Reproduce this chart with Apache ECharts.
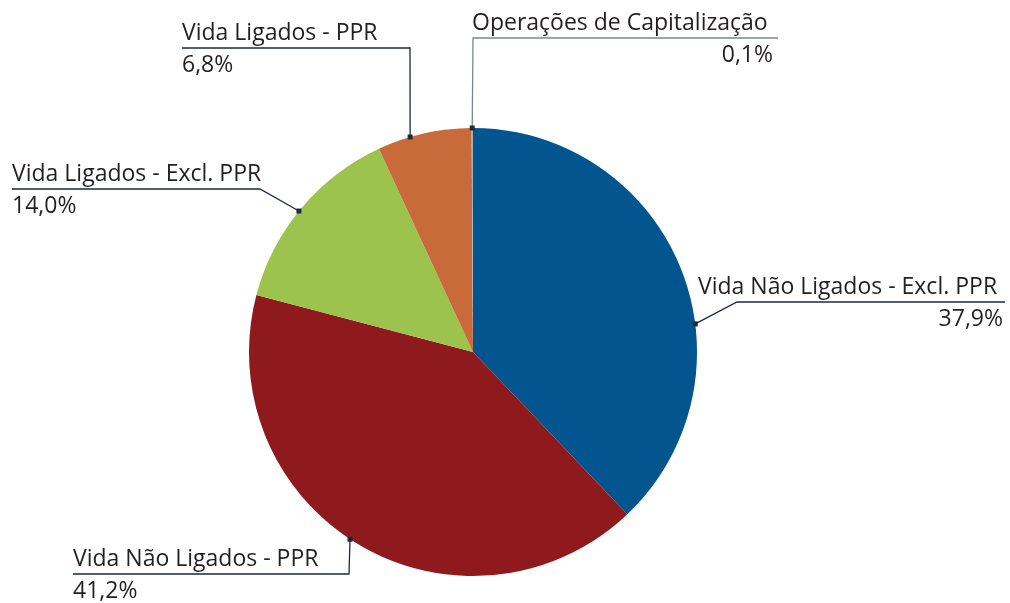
<!DOCTYPE html>
<html><head><meta charset="utf-8">
<script src="https://cdn.jsdelivr.net/npm/echarts@6/dist/echarts.min.js"></script>
<style>html,body{margin:0;padding:0;background:#fff}#c{width:1010px;height:603px}</style>
</head><body><div id="c"></div>
<script>
const categories = ['Vida Não Ligados - Excl. PPR','Vida Não Ligados - PPR','Vida Ligados - Excl. PPR','Vida Ligados - PPR','Operações de Capitalização'];
const values = [37.9, 41.2, 14.0, 6.8, 0.1];
const colors = ['#02558f','#8f1a1e','#9dc34f','#c96a3a','#9fb2bd'];

// label layout (presentation only): anchor angle on rim (deg clockwise from top), elbow, line end, label box
const CX = 473, CY = 352, R = 224;
const layouts = [
  {ang: 82.8,  elbow:[737,302], end:[1005,302], x:698, w:305, side:'rt', lineColor:'#1d2b36'},
  {ang: 213.3, elbow:[349,574], end:[73,574],   x:73,  w:270, side:'l',  lineColor:'#1d2b36'},
  {ang: 309,   elbow:[260,189], end:[12,189],   x:12,  w:250, side:'l',  lineColor:'#1d2b36'},
  {ang: 343.7, elbow:[410,48],  end:[182,48],   x:182, w:220, side:'l',  lineColor:'#1d2b36'},
  {ang: 359.8, elbow:[473,38],  end:[778,38],   x:472, w:301, side:'rt', lineColor:'#7d878d'}
];
function anchor(i){
  const a = layouts[i].ang*Math.PI/180;
  return [CX + R*Math.sin(a), CY - R*Math.cos(a)];
}
const fmt = v => v.toFixed(1).replace('.', ',') + '%';
const FONT = 'Open Sans';
const FS = 23;

const chart = echarts.init(document.getElementById('c'));
chart.setOption({
  animation:false,
  series:[{
    type:'pie',
    center:[CX, CY],
    radius:R,
    startAngle:90,
    clockwise:true,
    avoidLabelOverlap:false,
    data: categories.map((n,i)=>({name:n, value:values[i], itemStyle:{color:colors[i]},
      labelLine:{lineStyle:{color:layouts[i].lineColor}}})),
    itemStyle:{borderWidth:0},
    label:{
      show:true,
      overflow:'none',
      formatter: p => '{n|' + p.name + '}\n{' + (layouts[p.dataIndex].side==='rt'?'pr':'pl') + '|' + fmt(values[p.dataIndex]) + '}',
      rich:{
        n:{fontFamily:FONT, fontSize:FS, color:'#231f20', lineHeight:32, align:'left'},
        pl:{fontFamily:FONT, fontSize:FS, color:'#231f20', lineHeight:32, align:'left'},
        pr:{fontFamily:FONT, fontSize:FS, color:'#231f20', lineHeight:32, align:'right'}
      }
    },
    labelLine:{show:true, length:10, length2:10, lineStyle:{width:1.3}},
    labelLayout: function(params){
      const i = params.dataIndex, L = layouts[i];
      return {
        x: L.x, y: L.elbow[1] + 1, align:'left', verticalAlign:'middle', width: L.w,
        labelLinePoints:[anchor(i), L.elbow, L.end]
      };
    }
  }]
});
chart.setOption({
  graphic: layouts.map((L,i)=>{ const p = anchor(i); return {type:'rect', shape:{x:p[0]-2.5, y:p[1]-2.5, width:5, height:5}, style:{fill:'#1d2b36'}, z:100}; })
});
</script></body></html>
